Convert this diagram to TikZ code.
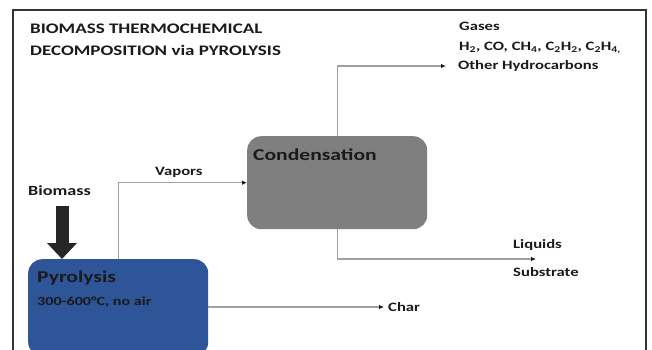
\documentclass[tikz,border=0pt]{standalone}
\usepackage{fontspec}
\setmainfont{Carlito}[FakeStretch=1.3]
\usetikzlibrary{positioning, arrows.meta}
\definecolor{PyroBlue}{HTML}{2E5597}
\definecolor{CondGray}{HTML}{7F7F7F}
\definecolor{FlowGray}{HTML}{A0A0A0}
\definecolor{InkDark}{HTML}{1A1A1A}
\newcommand*{\LabelFont}{\fontsize{12.8}{19}\selectfont\bfseries}
\newcommand*{\TitleFont}{\fontsize{14.6}{22}\selectfont\bfseries}
\newcommand*{\BoxFont}{\fontsize{16.6}{20}\selectfont\bfseries}
\tikzset{
    process/.style={rounded corners=14pt, anchor=north west, inner sep=0pt},
    flow/.style={draw=FlowGray, line width=1.1pt,
        -{Latex[length=5pt, width=4.5pt, color=InkDark]}},
    tag/.style={font=\LabelFont, text=InkDark, inner sep=1pt, anchor=base west},
}

\begin{document}
\begin{tikzpicture}[x=1pt, y=-1pt]
    \useasboundingbox (0,0) rectangle (652,350);
    \clip (0,0) rectangle (652,350);
    \draw [line width=1.4pt, black!80] (13,10) rectangle (646,362);

    \node [font=\TitleFont, text=InkDark, align=left, anchor=north west, inner sep=0pt]
        (title) at (30,24) {BIOMASS THERMOCHEMICAL\\DECOMPOSITION via PYROLYSIS};

    % process boxes
    \node [process, fill=CondGray, minimum width=180pt, minimum height=93pt] (cond) at (247,136) {};
    \node [process, fill=PyroBlue, minimum width=180pt, minimum height=97pt] (pyro) at (28,259) {};
    \node [font=\BoxFont, text=InkDark, anchor=base west, inner sep=0pt] (condname) at (253,160) {Condensation};
    \node [font=\BoxFont, text=InkDark, anchor=base west, inner sep=0pt] (pyroname) at (37,282) {Pyrolysis};
    \node [tag, font=\fontsize{12.4}{14}\selectfont\bfseries, below=23pt of pyroname.base west, anchor=base west, inner sep=0pt]
        (pyrotemp) {300-600°C, no air};

    % feed
    \node [tag, font=\fontsize{14}{16}\selectfont\bfseries] (biomass) at (27,195) {Biomass};
    \coordinate (feedtop) at (62,206);
    \draw [line width=13pt, black!85, -{Triangle[width=29pt, length=16pt]}] (feedtop) -- (feedtop |- pyro.north);

    % products
    \node [tag] (vapors) at (154,175) {Vapors};
    \draw [flow] (pyro) |- (cond);

    \node [tag] (gases) at (458,31) {Gases};
    \node [tag] (gasmix) at (458,51) {H\textsubscript{2}, CO, CH\textsubscript{4}, C\textsubscript{2}H\textsubscript{2}, C\textsubscript{2}H\textsubscript{4,}};
    \node [tag, anchor=west, inner sep=0pt, xshift=-12pt] (hydro) at (458,66) {\hspace*{12pt}Other Hydrocarbons};
    \draw [flow] (cond) |- (hydro.west);

    \coordinate (liqend) at (536,259);
    \node [tag] (liquids) at (512,248) {Liquids};
    \node [tag] (substrate) at (512,276) {Substrate};
    \draw [flow] (cond) |- (liqend);

    \node [tag, anchor=west, inner sep=4pt] (char) at (384,307) {Char};
    \draw [flow] (pyro.east |- char) -- (char);
\end{tikzpicture}
\end{document}
